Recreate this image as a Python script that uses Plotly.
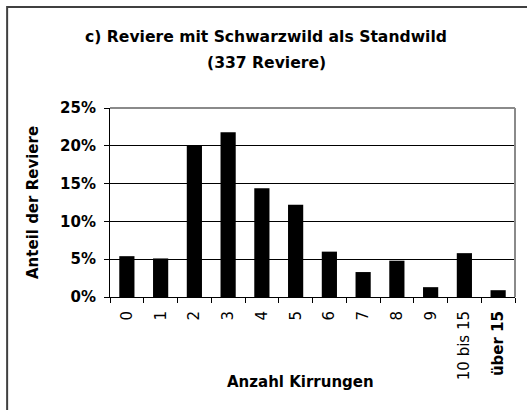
import plotly.graph_objects as go

categories = ["0", "1", "2", "3", "4", "5", "6", "7", "8", "9", "10 bis 15", "<b>über 15</b>"]
shares = [0.054, 0.051, 0.200, 0.218, 0.144, 0.122, 0.060, 0.033, 0.048, 0.013, 0.058, 0.009]
title_line1 = "c) Reviere mit Schwarzwild als Standwild"
title_line2 = "(337 Reviere)"
y_title = "Anteil der Reviere"
x_title = "Anzahl Kirrungen"

FONT = "DejaVu Sans, Arial, sans-serif"

fig = go.Figure()
fig.add_trace(go.Bar(x=categories, y=shares, marker=dict(color="black", line=dict(width=0)),
                     hoverinfo="skip"))

fig.update_layout(
    width=527, height=410,
    margin=dict(l=110, r=12, t=108, b=113),
    paper_bgcolor="white", plot_bgcolor="white",
    bargap=0.55,
    showlegend=False,
    font=dict(family=FONT, color="black", size=14),
    xaxis=dict(
        type="category", tickangle=-90, tickson="boundaries",
        ticks="outside", ticklen=5, tickcolor="black",
        showline=True, linecolor="black", linewidth=1,
        showgrid=False, tickfont=dict(size=15, family=FONT),
        ticklabelstandoff=7,
    ),
    yaxis=dict(
        range=[0, 0.25], dtick=0.05, tickformat=".0%",
        ticks="outside", ticklen=5, tickcolor="black",
        showline=True, linecolor="black", linewidth=1,
        showgrid=True, gridcolor="black", gridwidth=1,
        zeroline=False,
        tickfont=dict(size=15, family=FONT, weight="bold"),
        ticklabelstandoff=5,
    ),
    shapes=[
        dict(type="line", xref="paper", yref="paper", x0=0, x1=1, y0=1, y1=1,
             line=dict(color="#8a8a8a", width=2), layer="above"),
        dict(type="line", xref="paper", yref="paper", x0=1, x1=1, y0=0, y1=1,
             line=dict(color="#8a8a8a", width=2), layer="above"),
        dict(type="rect", xref="paper", yref="paper", x0=-0.254, x1=1.2, y0=-0.8, y1=1.534,
             line=dict(color="#404040", width=2), layer="above"),
    ],
    annotations=[
        dict(text="<b>" + title_line1 + "</b>", xref="paper", yref="paper",
             x=(266 - 110) / 405, y=(297 - 37) / 189, xanchor="center", yanchor="middle",
             showarrow=False, font=dict(size=15.6, family=FONT)),
        dict(text="<b>" + title_line2 + "</b>", xref="paper", yref="paper",
             x=(266 - 110) / 405, y=(297 - 63) / 189, xanchor="center", yanchor="middle",
             showarrow=False, font=dict(size=15.6, family=FONT)),
        dict(text="<b>" + y_title + "</b>", xref="paper", yref="paper",
             x=(33 - 110) / 405, y=(297 - 203) / 189, xanchor="center", yanchor="middle",
             textangle=-90, showarrow=False, font=dict(size=15, family=FONT)),
        dict(text="<b>" + x_title + "</b>", xref="paper", yref="paper",
             x=(300 - 110) / 405, y=(297 - 382) / 189, xanchor="center", yanchor="middle",
             showarrow=False, font=dict(size=15, family=FONT)),
    ],
)

fig.write_html("out.html", config={"displayModeBar": False},
               post_script="document.body.style.margin='0';document.body.style.overflow='hidden';")
